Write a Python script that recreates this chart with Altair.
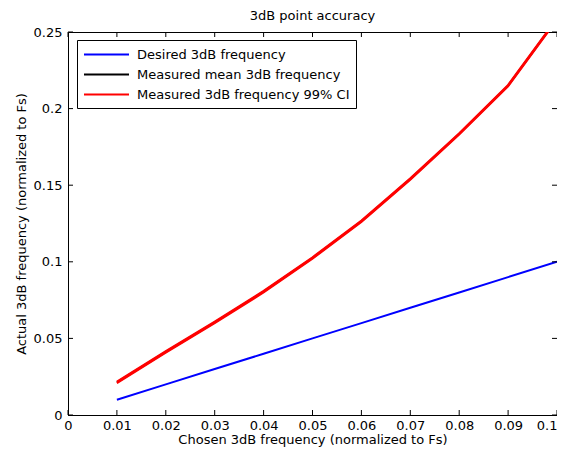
import altair as alt
import pandas as pd

# ---- data ----
chosen = [0.01, 0.02, 0.03, 0.04, 0.05, 0.06, 0.07, 0.08, 0.09, 0.10]
desired = [0.01, 0.02, 0.03, 0.04, 0.05, 0.06, 0.07, 0.08, 0.09, 0.10]
measured_mean = [0.0213, 0.0412, 0.0605, 0.0805, 0.1025, 0.1265, 0.1540, 0.1835, 0.2150, 0.2585]
ci_low = [0.0208, 0.0407, 0.0600, 0.0800, 0.1020, 0.1260, 0.1535, 0.1830, 0.2145, 0.2580]
ci_high = [0.0218, 0.0417, 0.0610, 0.0810, 0.1030, 0.1270, 0.1545, 0.1840, 0.2155, 0.2590]

x_ticks = [0, 0.01, 0.02, 0.03, 0.04, 0.05, 0.06, 0.07, 0.08, 0.09, 0.1]
y_ticks = [0, 0.05, 0.1, 0.15, 0.2, 0.25]

names = ["Desired 3dB frequency", "Measured mean 3dB frequency", "Measured 3dB frequency 99% CI"]
colors = ["#0000FF", "#000000", "#FF0000"]

W, H = 489, 383

rows = []
for x, d, m, lo, hi in zip(chosen, desired, measured_mean, ci_low, ci_high):
    rows.append({"x": x, "y": d, "series": names[0], "line": "desired"})
    rows.append({"x": x, "y": m, "series": names[1], "line": "mean"})
    rows.append({"x": x, "y": lo, "series": names[2], "line": "lo"})
    rows.append({"x": x, "y": hi, "series": names[2], "line": "hi"})
df = pd.DataFrame(rows)

xs = alt.Scale(domain=[0, 0.1], nice=False, zero=False)
ys = alt.Scale(domain=[0, 0.25], nice=False, zero=False)

font = "DejaVu Sans"
FS = 13

x_enc = alt.X("x:Q", scale=xs, title="Chosen 3dB frequency (normalized to Fs)",
              axis=alt.Axis(values=x_ticks, ticks=False, grid=False, labelPadding=4,
                            labelFlush=False, format="~g", titlePadding=1,
                            labelAlign=alt.condition("datum.value >= 0.1", alt.value("right"), alt.value("center"))))
y_enc = alt.Y("y:Q", scale=ys, title="Actual 3dB frequency (normalized to Fs)",
              axis=alt.Axis(values=y_ticks, ticks=False, grid=False, labelPadding=6,
                            format="~g", titlePadding=5))
color_enc = alt.Color("series:N",
                      scale=alt.Scale(domain=names, range=colors),
                      legend=alt.Legend(title=None, orient="none", legendX=9, legendY=8,
                                        symbolType="M-1,0H5", symbolSize=225,
                                        symbolStrokeWidth=2, labelFontSize=FS,
                                        labelFont=font, labelColor="black",
                                        labelOffset=37, rowPadding=4,
                                        strokeColor="black", fillColor="white",
                                        padding=6, labelLimit=300))

base = alt.Chart(df).mark_line(clip=True, strokeWidth=2)

def layer_for(name):
    return base.transform_filter(alt.datum.series == name).encode(
        x=x_enc, y=y_enc, color=color_enc, detail="line:N", order="x:Q")

lines = layer_for(names[0]) + layer_for(names[1]) + layer_for(names[2])

xt = pd.DataFrame({"t": x_ticks})
yt = pd.DataFrame({"t": y_ticks})
tick_b = alt.Chart(xt).mark_rule(color="black").encode(
    x=alt.X("t:Q", scale=xs), y=alt.value(H), y2=alt.value(H - 5))
tick_t = alt.Chart(xt).mark_rule(color="black").encode(
    x=alt.X("t:Q", scale=xs), y=alt.value(0), y2=alt.value(5))
tick_l = alt.Chart(yt).mark_rule(color="black").encode(
    y=alt.Y("t:Q", scale=ys), x=alt.value(0), x2=alt.value(5))
tick_r = alt.Chart(yt).mark_rule(color="black").encode(
    y=alt.Y("t:Q", scale=ys), x=alt.value(W), x2=alt.value(W - 5))

chart = (lines + tick_b + tick_t + tick_l + tick_r).properties(
    width=W, height=H,
    background="white",
    title=alt.Title("3dB point accuracy", fontSize=FS, fontWeight="normal", font=font,
                    offset=3, color="black"),
    autosize=alt.AutoSizeParams(type="none"),
    padding={"left": 60, "top": 24, "right": 0, "bottom": 34},
).configure_view(stroke="black", strokeWidth=1).configure_axis(
    domainColor="black", labelColor="black", titleColor="black",
    labelFont=font, titleFont=font, labelFontSize=FS, titleFontSize=FS,
    titleFontWeight="normal",
)

chart.save("out.html", embed_options={"renderer": "svg", "actions": False})
